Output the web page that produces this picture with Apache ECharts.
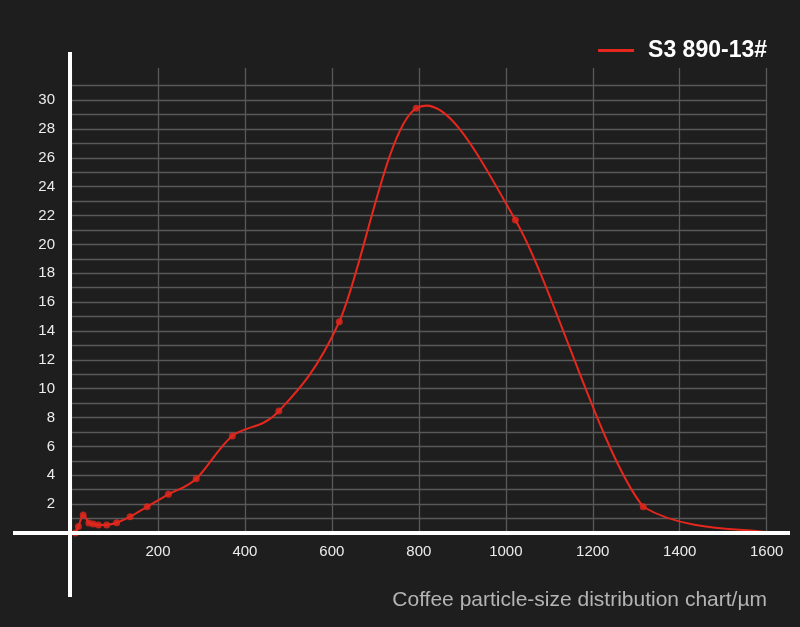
<!DOCTYPE html>
<html>
<head>
<meta charset="utf-8">
<script src="https://cdn.jsdelivr.net/npm/echarts@6/dist/echarts.min.js"></script>
<style>
html,body{margin:0;padding:0;background:#1e1e1e;}
#chart{width:800px;height:627px;}
</style>
</head>
<body>
<div id="chart"></div>
<script>
const seriesName = 'S3 890-13#';
const sizes = [10, 17, 28, 41, 51, 63, 82, 105, 136, 175, 224, 288, 371, 478, 617, 794, 1022, 1316, 1600];
const values = [0.0, 0.45, 1.25, 0.7, 0.62, 0.55, 0.55, 0.71, 1.13, 1.82, 2.68, 3.76, 6.72, 8.45, 14.64, 29.43, 21.7, 1.82, 0.05];
const xTicks = [200, 400, 600, 800, 1000, 1200, 1400, 1600];
const yTicks = [2, 4, 6, 8, 10, 12, 14, 16, 18, 20, 22, 24, 26, 28, 30];
const chartTitle = 'Coffee particle-size distribution chart/µm';

const RED = '#e5271d';
const markerPoints = sizes.map((s, i) => {
  const p = { value: [s, values[i]] };
  if (i === sizes.length - 1) p.symbol = 'none';
  return p;
});

function isExtremum(a, b, c) {
  return (b[1] - a[1]) * (c[1] - b[1]) < 0;
}
function clampY(y, a, b) {
  return Math.max(Math.min(a, b), Math.min(Math.max(a, b), y));
}

// Catmull-Rom curve through the data points, in pixel space via the axis scales
function renderCurve(params, api) {
  if (params.dataIndex !== 0) return null;
  const pts = sizes.map((s, i) => api.coord([s, values[i]]));
  const n = pts.length;
  let d = 'M' + pts[0][0] + ' ' + pts[0][1];
  for (let i = 0; i < n - 1; i++) {
    const p0 = pts[Math.max(i - 1, 0)];
    const p1 = pts[i];
    const p2 = pts[i + 1];
    const p3 = pts[Math.min(i + 2, n - 1)];
    const c1 = [p1[0] + (p2[0] - p0[0]) / 6, p1[1] + (p2[1] - p0[1]) / 6];
    const c2 = [p2[0] - (p3[0] - p1[0]) / 6, p2[1] - (p3[1] - p1[1]) / 6];
    if (!isExtremum(p0, p1, p2)) c1[1] = clampY(c1[1], p1[1], p2[1]);
    if (!isExtremum(p1, p2, p3)) c2[1] = clampY(c2[1], p1[1], p2[1]);
    d += ' C' + c1[0] + ' ' + c1[1] + ' ' + c2[0] + ' ' + c2[1] + ' ' + p2[0] + ' ' + p2[1];
  }
  return {
    type: 'path',
    shape: { pathData: d },
    style: { fill: null, stroke: RED, lineWidth: 2 }
  };
}

const chart = echarts.init(document.getElementById('chart'));
const font = 'Liberation Sans, Arial, sans-serif';
chart.setOption({
  backgroundColor: '#1e1e1e',
  animation: false,
  title: {
    text: chartTitle,
    right: 28, bottom: 11,
    textStyle: { color: '#b4b4b4', fontSize: 21, fontWeight: 'normal', fontFamily: font }
  },
  legend: {
    data: [{ name: seriesName, icon: 'rect' }],
    right: 28, top: 34,
    itemWidth: 36, itemHeight: 3, itemGap: 14,
    textStyle: { color: '#ffffff', fontSize: 23, fontWeight: 'bold', fontFamily: font, padding: [0, 0, 0, 9] }
  },
  grid: [
    { left: 71, right: 33.3, top: 85.7, bottom: 94 },
    { left: 71, right: 33.3, top: 68, bottom: 94 }
  ],
  xAxis: [
    {
      gridIndex: 0, type: 'value', min: 0, max: 1600, interval: 200,
      axisLine: { show: false }, axisTick: { show: false },
      splitLine: { show: false },
      axisLabel: {
        color: '#ececec', fontSize: 15, fontFamily: font, margin: 11,
        formatter: v => xTicks.includes(v) ? String(v) : ''
      }
    },
    {
      gridIndex: 1, type: 'value', min: 0, max: 1600, interval: 200,
      axisLine: { show: false }, axisTick: { show: false }, axisLabel: { show: false },
      splitLine: { show: true, lineStyle: { color: '#595959', width: 1.3 } }
    }
  ],
  yAxis: [
    {
      gridIndex: 0, type: 'value', min: 0, max: 31, interval: 1,
      axisLine: { show: false }, axisTick: { show: false },
      splitLine: { show: true, lineStyle: { color: '#595959', width: 1.3 } },
      axisLabel: {
        color: '#ececec', fontSize: 15, fontFamily: font, margin: 16,
        formatter: v => yTicks.includes(v) ? String(v) : ''
      }
    },
    {
      gridIndex: 1, type: 'value', min: 0, max: 1,
      show: false
    }
  ],
  series: [
    {
      name: seriesName,
      type: 'custom',
      xAxisIndex: 0, yAxisIndex: 0,
      data: [[sizes[0], values[0]]],
      renderItem: renderCurve,
      itemStyle: { color: RED },
      clip: false,
      z: 5
    },
    {
      name: seriesName,
      type: 'scatter',
      xAxisIndex: 0, yAxisIndex: 0,
      data: markerPoints,
      symbol: 'circle',
      symbolSize: 7,
      itemStyle: { color: RED },
      z: 6
    }
  ],
  graphic: [
    { type: 'line', z: 10, shape: { x1: 13, y1: 533, x2: 790, y2: 533 }, style: { stroke: '#ffffff', lineWidth: 4 } },
    { type: 'line', z: 10, shape: { x1: 70, y1: 52, x2: 70, y2: 597 }, style: { stroke: '#ffffff', lineWidth: 4 } }
  ]
});
</script>
</body>
</html>
